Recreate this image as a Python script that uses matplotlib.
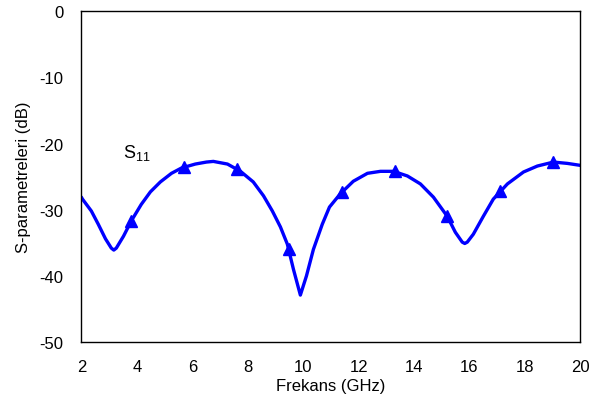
import numpy as np
import matplotlib.pyplot as plt

plt.rcParams['font.family'] = ['Liberation Sans', 'DejaVu Sans']
plt.rcParams['axes.unicode_minus'] = False

# S11 trace (GHz, dB)
freq = [2.0, 2.04, 2.36, 2.61, 2.87, 3.08, 3.17, 3.26, 3.52, 3.80, 4.16, 4.49,
        4.85, 5.25, 5.61, 6.11, 6.51, 6.76, 7.27, 7.74, 8.20, 8.57, 8.89,
        9.18, 9.43, 9.65, 9.90, 10.12, 10.37, 10.69, 10.95, 11.34, 11.81,
        12.32, 12.79, 13.26, 13.76, 14.23, 14.70, 15.20, 15.49, 15.74, 15.83,
        15.92, 16.14, 16.50, 16.86, 17.37, 17.95, 18.45, 19.03, 19.53, 20.0]
s11 = [-28.1, -28.4, -30.2, -32.2, -34.4, -35.8, -36.1, -35.8, -34.0, -31.7,
       -29.2, -27.3, -25.8, -24.5, -23.7, -23.1, -22.8, -22.7, -23.1, -24.2,
       -25.8, -27.9, -30.2, -32.6, -35.2, -39.0, -42.9, -40.0, -36.0, -32.2,
       -29.6, -27.6, -25.7, -24.5, -24.2, -24.2, -24.9, -26.1, -28.1, -31.0,
       -33.4, -34.9, -35.1, -34.9, -33.7, -31.0, -28.4, -26.1, -24.3, -23.4,
       -22.8, -23.0, -23.3]

# marker samples along the trace
freq_mk = [3.8, 5.7, 7.6, 9.5, 11.4, 13.3, 15.2, 17.1, 19.0]
s11_mk = [-31.7, -23.6, -23.8, -36.0, -27.3, -24.2, -31.0, -27.2, -22.8]

fig, ax = plt.subplots(figsize=(5.94, 4.06), dpi=100)
fig.subplots_adjust(left=0.137, right=0.977, bottom=0.155, top=0.97)

ax.plot(freq, s11, color='#0000ff', lw=2.4,
        solid_joinstyle='round', solid_capstyle='round')
ax.plot(freq_mk, s11_mk, ls='none', marker='^', color='#0000ff', ms=9)

ax.set_xlim(2, 20)
ax.set_ylim(-50, 0)
ax.set_xticks(np.arange(2, 21, 2))
ax.set_yticks(np.arange(-50, 1, 10))
ax.tick_params(length=0, labelsize=12)
ax.tick_params(axis='x', pad=12)
ax.tick_params(axis='y', pad=13)
for sp in ax.spines.values():
    sp.set_linewidth(1.0)
    sp.set_color('black')

ax.set_xlabel('Frekans (GHz)', fontsize=12, labelpad=3)
ax.set_ylabel('S-parametreleri (dB)', fontsize=12, labelpad=6)
ax.text(3.5, -22.0, r'$\mathregular{S_{11}}$', fontsize=13, va='baseline')

fig.savefig('out.png', dpi=100)
